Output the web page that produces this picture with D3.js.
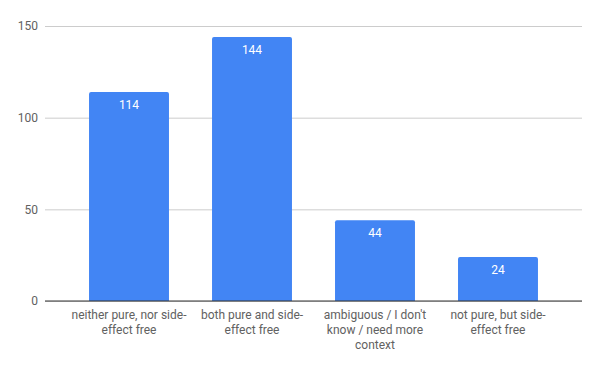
<!DOCTYPE html>
<html>
<head>
<meta charset="utf-8">
<script src="https://cdn.jsdelivr.net/npm/d3@7"></script>
<style>
  body { margin: 0; background: #fff; }
  text { font-family: Roboto, "Noto Sans", sans-serif; }
</style>
</head>
<body>
<div id="chart"></div>
<script>
// Chart data
const categories = [
    "neither pure, nor side-effect free",
    "both pure and side-effect free",
    "ambiguous / I don't know / need more context",
    "not pure, but side-effect free"
];
const counts = [114, 144, 44, 24];
const yTicks = [0, 50, 100, 150];

const width = 600, height = 371;
const margin = { top: 26, right: 18, bottom: 70, left: 45 };

const svg = d3.select("#chart").append("svg")
    .attr("width", width)
    .attr("height", height);

const x = d3.scaleBand()
    .domain(categories)
    .range([margin.left, width - margin.right])
    .paddingInner(0.35)
    .paddingOuter(0.358);

const y = d3.scaleLinear()
    .domain([0, 150])
    .range([height - margin.bottom, margin.top]);

// Gridlines + y labels
const yAxis = d3.axisLeft(y)
    .tickValues(yTicks)
    .tickSize(-(width - margin.left - margin.right))
    .tickPadding(7)
    .tickFormat(d3.format("d"));
const gy = svg.append("g")
    .attr("transform", `translate(${margin.left},0)`)
    .call(yAxis);
gy.select(".domain").remove();
gy.selectAll(".tick line").attr("stroke", "#cccccc");
gy.selectAll(".tick text")
    .attr("fill", "#616161")
    .style("font-size", "12px");

// Bars with slightly rounded tops
const r = 2;
svg.append("g")
    .selectAll("path")
    .data(counts)
    .join("path")
    .attr("fill", "#4285f4")
    .attr("d", (d, i) => {
        const x0 = x(categories[i]), w = x.bandwidth();
        const yt = y(d), yb = y(0);
        return `M${x0},${yb}V${yt + r}Q${x0},${yt} ${x0 + r},${yt}H${x0 + w - r}Q${x0 + w},${yt} ${x0 + w},${yt + r}V${yb}Z`;
    });

// Value labels
svg.append("g")
    .selectAll("text")
    .data(counts)
    .join("text")
    .attr("x", (d, i) => x(categories[i]) + x.bandwidth() / 2)
    .attr("y", d => y(d) + 17)
    .attr("text-anchor", "middle")
    .attr("fill", "#ffffff")
    .style("font-size", "12px")
    .text(d => d);

// Baseline
svg.append("line")
    .attr("x1", margin.left)
    .attr("x2", width - margin.right)
    .attr("y1", y(0))
    .attr("y2", y(0))
    .attr("stroke", "#333333")
    .attr("stroke-width", 1);

// Category labels, wrapped
const maxW = 120;
const gx = svg.append("g");
categories.forEach((c, i) => {
    const t = gx.append("text")
        .attr("x", x(c) + x.bandwidth() / 2)
        .attr("y", y(0) + 18)
        .attr("text-anchor", "middle")
        .attr("fill", "#616161")
        .style("font-size", "12px");
    // split after spaces and hyphens
    const tokens = c.match(/[^\s-]+-|[^\s-]+\s*/g);
    let lines = [], cur = "";
    const probe = t.append("tspan");
    tokens.forEach(tok => {
        const test = cur + tok;
        probe.text(test.trim());
        if (cur && probe.node().getComputedTextLength() > maxW) {
            lines.push(cur.trim());
            cur = tok;
        } else {
            cur = test;
        }
    });
    lines.push(cur.trim());
    probe.remove();
    lines.forEach((l, j) => {
        t.append("tspan")
            .attr("x", x(c) + x.bandwidth() / 2)
            .attr("dy", j === 0 ? 0 : 15)
            .text(l);
    });
});
</script>
</body>
</html>
